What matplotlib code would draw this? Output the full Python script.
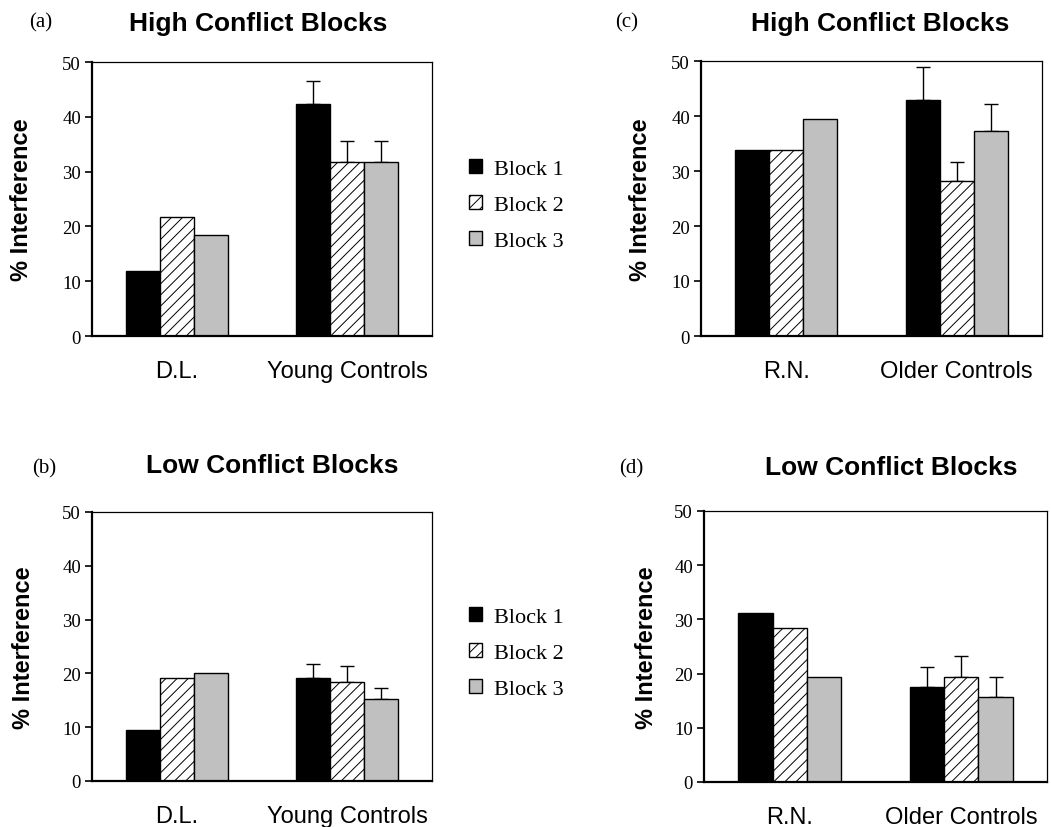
import numpy as np
import matplotlib
matplotlib.use("Agg")
import matplotlib.pyplot as plt
from matplotlib.patches import Patch

SANS = "Liberation Sans"
SERIF = "Liberation Serif"
plt.rcParams["hatch.linewidth"] = 0.7

blocks = ["Block 1", "Block 2", "Block 3"]
groups_young = ["D.L.", "Young Controls"]
groups_older = ["R.N.", "Older Controls"]

# rows = groups, columns = blocks 1..3 (% interference)
high_young = np.array([[11.9, 21.7, 18.4],
                       [42.3, 31.7, 31.7]])
high_young_err = np.array([[0, 0, 0],
                           [4.2, 3.9, 3.9]])
low_young = np.array([[9.5, 19.1, 20.1],
                      [19.1, 18.4, 15.2]])
low_young_err = np.array([[0, 0, 0],
                          [2.6, 3.0, 2.1]])
high_older = np.array([[33.8, 33.8, 39.5],
                       [43.0, 28.2, 37.2]])
high_older_err = np.array([[0, 0, 0],
                           [6.0, 3.5, 4.9]])
low_older = np.array([[31.2, 28.4, 19.4],
                      [17.5, 19.4, 15.7]])
low_older_err = np.array([[0, 0, 0],
                          [3.7, 3.8, 3.7]])

styles = [dict(color="black", hatch=None),
          dict(color="white", hatch="///"),
          dict(color="#c0c0c0", hatch=None)]


def draw_panel(ax, vals, errs, groups):
  x = np.arange(len(groups))
  w = 0.2
  for b in range(3):
    pos = x + (b - 1) * w
    ax.bar(pos, vals[:, b], w, facecolor=styles[b]["color"], hatch=styles[b]["hatch"],
           edgecolor="black", linewidth=1.0, zorder=2)
    m = errs[:, b] > 0
    ax.errorbar(pos[m], vals[m, b], yerr=[np.zeros(m.sum()), errs[m, b]], fmt="none",
                ecolor="black", elinewidth=1.0, capsize=5, capthick=1.0, zorder=1)
  ax.set_xlim(-0.5, 1.5)
  ax.set_ylim(0, 50)
  ax.set_yticks(np.arange(0, 51, 10))
  ax.set_xticks(x)
  ax.set_xticklabels(groups, fontfamily=SANS, fontsize=17)
  ax.tick_params(axis="x", length=0, pad=17)
  ax.tick_params(axis="y", direction="out", length=5, width=1.2, pad=3)
  for lab in ax.get_yticklabels():
    lab.set_fontfamily(SERIF)
    lab.set_fontsize(13.5)
  ax.spines["left"].set_linewidth(1.6)
  ax.spines["bottom"].set_linewidth(1.6)
  ax.spines["top"].set_linewidth(0.9)
  ax.spines["right"].set_linewidth(0.9)
  ax.set_ylabel("% Interference", fontfamily=SANS, fontweight="bold", fontsize=17)


W, H = 1051, 828
fig = plt.figure(figsize=(W / 100, H / 100), dpi=100)

ax_a = fig.add_axes([92 / W, 1 - 337 / H, 340 / W, 274 / H])
ax_c = fig.add_axes([701 / W, 1 - 337 / H, 341 / W, 275 / H])
ax_b = fig.add_axes([92 / W, 1 - 782 / H, 340 / W, 269 / H])
ax_d = fig.add_axes([704 / W, 1 - 783 / H, 343 / W, 271 / H])

draw_panel(ax_a, high_young, high_young_err, groups_young)
draw_panel(ax_b, low_young, low_young_err, groups_young)
draw_panel(ax_c, high_older, high_older_err, groups_older)
draw_panel(ax_d, low_older, low_older_err, groups_older)

ax_a.yaxis.set_label_coords((33 - 92) / 340, 0.5)
ax_b.yaxis.set_label_coords((35 - 92) / 340, 0.5)
ax_c.yaxis.set_label_coords((652 - 701) / 341, 0.5)
ax_d.yaxis.set_label_coords((658 - 704) / 343, 0.5)

titles = [("High Conflict Blocks", 258, 24), ("High Conflict Blocks", 880, 24),
          ("Low Conflict Blocks", 272, 466), ("Low Conflict Blocks", 891, 468)]
for t, px, py in titles:
  fig.text(px / W, 1 - py / H, t, ha="center", va="center", fontfamily=SANS,
           fontweight="bold", fontsize=19)

labels = [("(a)", 41, 23), ("(c)", 627, 23), ("(b)", 44, 469), ("(d)", 631, 469)]
for t, px, py in labels:
  fig.text(px / W, 1 - py / H, t, ha="center", va="center", fontfamily=SERIF, fontsize=15)

handles = [Patch(facecolor=s["color"], hatch=s["hatch"], edgecolor="black", linewidth=1.0)
           for s in styles]
for ytop in (151, 599):
  fig.legend(handles, blocks, loc="upper left", bbox_to_anchor=(460 / W, 1 - ytop / H),
             frameon=False, borderaxespad=0, handlelength=0.6, handleheight=0.6,
             handletextpad=0.55, labelspacing=0.72, prop=dict(family=SERIF, size=16))

fig.savefig("out.png", dpi=100)
